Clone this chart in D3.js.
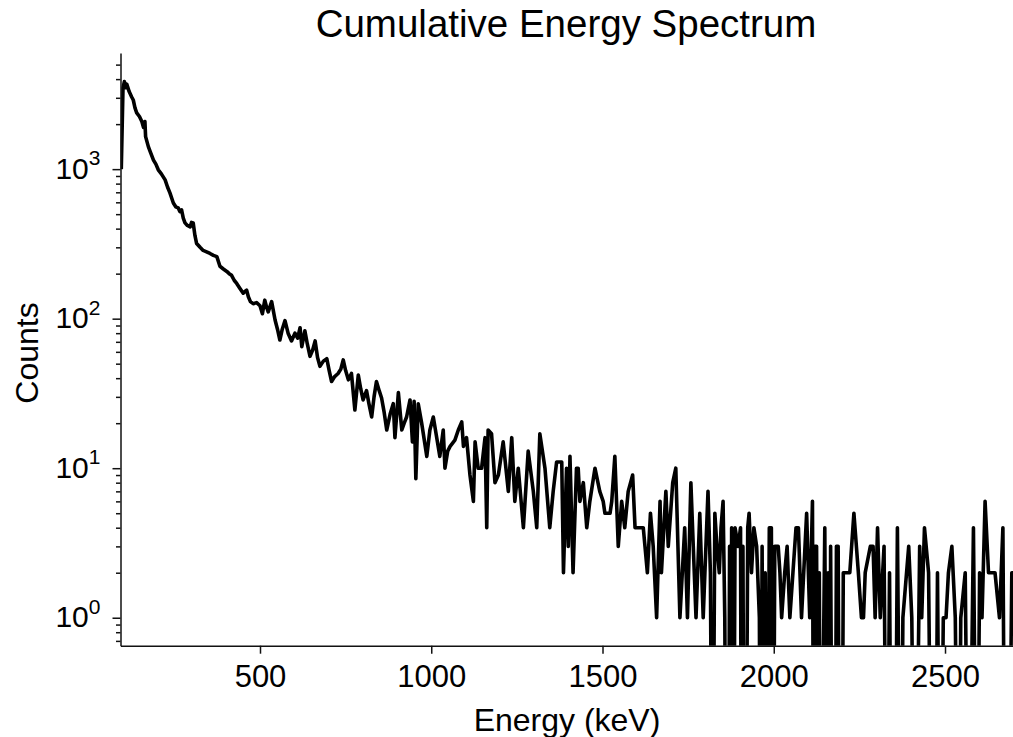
<!DOCTYPE html>
<html>
<head>
<meta charset="utf-8">
<script src="https://cdn.jsdelivr.net/npm/d3@7"></script>
<style>
  body { margin: 0; background: #fff; }
  svg { display: block; font-family: "Liberation Sans", Arial, sans-serif; }
  .axis path, .axis line { stroke: #111; stroke-width: 1.5; }
</style>
</head>
<body>
<div id="chart"></div>
<script>
// energies (keV) and counts, left to right (10 per row)
const energy = [
  95, 100, 104, 108, 111, 118, 125, 130, 135, 140,
  148, 155, 160, 164, 166, 174, 180, 189, 196, 203,
  212, 223, 230, 237, 247, 254, 261, 266, 271, 276,
  281, 288, 296, 300, 305, 310, 315, 325, 334, 344,
  354, 364, 374, 383, 393, 403, 410, 417, 425, 432,
  441, 451, 456, 461, 466, 472, 480, 490, 500, 507,
  514, 519, 524, 534, 544, 551, 558, 565, 573, 582,
  592, 602, 610, 617, 622, 631, 638, 646, 654, 661,
  668, 675, 685, 695, 702, 709, 718, 728, 736, 743,
  750, 758, 767, 777, 787, 794, 801, 811, 818, 826,
  833, 840, 848, 855, 862, 870, 880, 889, 894, 904,
  914, 921, 928, 938, 945, 950, 955, 962, 972, 987,
  996, 1006, 1016, 1025, 1035, 1040, 1048, 1055, 1069, 1079,
  1089, 1094, 1103, 1113, 1123, 1128, 1137, 1147, 1157, 1162,
  1166, 1176, 1186, 1196, 1210, 1225, 1235, 1244, 1254, 1269,
  1283, 1298, 1308, 1317, 1332, 1346, 1356, 1366, 1381, 1386,
  1395, 1400, 1405, 1414, 1424, 1429, 1434, 1444, 1454, 1463,
  1478, 1492, 1502, 1507, 1522, 1527, 1536, 1546, 1556, 1565,
  1575, 1588, 1595, 1604, 1619, 1624, 1631, 1640, 1648, 1658,
  1668, 1672, 1685, 1692, 1705, 1714, 1726, 1740, 1748, 1758,
  1765, 1773, 1784, 1794, 1808, 1815, 1821, 1828, 1834, 1841,
  1846, 1852, 1857, 1862, 1867, 1871, 1874, 1877, 1882, 1887,
  1896, 1903, 1906, 1910, 1914, 1918, 1924, 1928, 1935, 1942,
  1950, 1958, 1962, 1966, 1970, 1975, 1980, 1987, 1993, 1998,
  2003, 2013, 2018, 2023, 2032, 2039, 2047, 2056, 2065, 2072,
  2081, 2096, 2105, 2113, 2117, 2120, 2125, 2130, 2133, 2137,
  2149, 2155, 2159, 2163, 2166, 2172, 2178, 2183, 2188, 2193,
  2198, 2203, 2208, 2222, 2234, 2247, 2256, 2262, 2267, 2282,
  2290, 2296, 2303, 2311, 2322, 2330, 2338, 2345, 2353, 2361,
  2371, 2377, 2394, 2403, 2413, 2426, 2432, 2440, 2452, 2462,
  2471, 2478, 2486, 2495, 2503, 2510, 2520, 2530, 2540, 2546,
  2559, 2569, 2583, 2593, 2601, 2608, 2617, 2627, 2637, 2646,
  2659, 2669, 2676, 2685, 2695, 2702
];
const counts = [
  1000, 3500, 3850, 3500, 3700, 3300, 3050, 2900, 2570, 2380,
  2250, 2080, 1900, 2080, 1650, 1414, 1300, 1150, 1080, 990,
  930, 847, 760, 693, 594, 560, 551, 520, 534, 470,
  437, 420, 411, 440, 437, 360, 318, 300, 286, 280,
  273, 265, 260, 224, 215, 207, 200, 195, 180, 172,
  160, 148, 152, 155, 140, 130, 126, 128, 122, 108,
  133, 120, 111, 130, 98, 85, 72, 85, 97, 80,
  71, 80, 74, 87, 65, 83, 68, 56, 62, 71,
  55, 48, 52, 54, 45, 38, 41, 43, 46, 53,
  45, 39, 43, 24.5, 42, 34, 28.6, 33, 27, 22,
  30, 38, 33, 29.5, 24, 18, 23, 27, 16, 32,
  18, 20, 22, 28.6, 15, 28, 8.5, 27, 20, 12,
  18, 22, 16, 12, 18, 10, 13, 14, 15.4, 18,
  20.4, 14, 16, 9, 6, 15, 10, 10, 16, 4,
  18, 17, 8, 9, 15, 7, 16, 6, 10, 4,
  13, 7, 4, 17, 10, 4, 7, 11, 11, 2,
  10, 3, 12, 2, 10, 10, 6, 8, 4, 6,
  10, 7, 6, 5, 5, 6, 12, 3, 6, 4,
  7, 9, 4, 4, 4, 3, 2, 5, 3, 1,
  6, 2, 7, 3, 8, 10, 1, 4, 1, 8,
  3, 1, 5, 1, 7, 2, 0, 5, 3, 2,
  4, 6, 1, 0, 0, 3, 0, 4, 0, 4,
  3, 4, 0, 3, 0, 0, 4, 5, 2, 4,
  3, 1, 0, 3, 0, 2, 0, 4, 4, 0,
  3, 3, 2, 1, 2, 3, 1, 2, 4, 4,
  1, 5, 1, 6, 0, 3, 3, 0, 2, 0,
  4, 0, 2, 0, 3, 0, 0, 3, 3, 0,
  0, 2, 2, 2, 5, 2, 1, 1, 2, 3,
  3, 1, 4, 1, 3, 0, 2, 0, 0, 4,
  0, 1, 3, 1, 0, 3, 1, 4, 2, 0,
  0, 2, 0, 1, 1, 2, 3, 1, 0, 1,
  2, 0, 4, 0, 2, 1, 6, 2, 2, 2,
  1, 4, 0, 0, 2, 2
];
const xTicks = [500, 1000, 1500, 2000, 2500];
const yTicks = [1, 10, 100, 1000];
const xDomain = [92.7, 2698.5];
const yDomain = [0.65, 5980];

const data = energy.map((e, i) => ({ e: e, c: counts[i] }));

const W = 1013, H = 737;
const margin = { top: 53, right: 0, bottom: 91.3, left: 120.5 };
const width = W - margin.left - margin.right;
const height = H - margin.top - margin.bottom;

const svg = d3.select('#chart').append('svg')
  .attr('width', W)
  .attr('height', H);

const chart = svg.append('g')
  .attr('transform', `translate(${margin.left}, ${margin.top})`);

const x = d3.scaleLinear().domain(xDomain).range([0, width]);
const y = d3.scaleLog().domain(yDomain).range([height, 0]);

// clip so zero counts drop off the bottom like matplotlib does
chart.append('clipPath').attr('id', 'clip')
  .append('rect').attr('width', width).attr('height', height);

const line = d3.line()
  .x(d => x(d.e))
  .y(d => y(Math.max(d.c, 0.01)));

chart.append('path')
  .datum(data)
  .attr('clip-path', 'url(#clip)')
  .attr('fill', 'none')
  .attr('stroke', '#000')
  .attr('stroke-width', 3.6)
  .attr('stroke-linejoin', 'round')
  .attr('d', line);

// x axis
const xAxis = chart.append('g')
  .attr('class', 'axis x-axis')
  .attr('transform', `translate(0, ${height})`)
  .call(d3.axisBottom(x).tickValues(xTicks).tickFormat(d3.format('d'))
    .tickSize(8).tickPadding(11).tickSizeOuter(0));
xAxis.selectAll('text').attr('font-size', 31).attr('fill', '#000');

// y minor ticks
const minors = [];
[0.1, 1, 10, 100, 1000].forEach(p => {
  for (let k = 2; k <= 9; k++) {
    const v = p * k;
    if (v >= yDomain[0] && v <= yDomain[1]) minors.push(v);
  }
});
chart.append('g')
  .attr('class', 'axis y-minor')
  .call(d3.axisLeft(y).tickValues(minors).tickSize(4.5).tickFormat('').tickSizeOuter(0))
  .select('.domain').remove();

// y major ticks
const yAxis = chart.append('g')
  .attr('class', 'axis y-axis')
  .call(d3.axisLeft(y).tickValues(yTicks).tickSize(8).tickPadding(12).tickSizeOuter(0));
yAxis.selectAll('text')
  .attr('font-size', 30)
  .attr('fill', '#000')
  .attr('dy', '0.3em')
  .text(null)
  .each(function(d) {
    const t = d3.select(this);
    t.append('tspan').text('10');
    t.append('tspan')
      .attr('font-size', 21)
      .attr('dy', '-0.65em')
      .text(Math.round(Math.log10(d)));
  });

// title and labels
svg.append('text')
  .attr('x', 566)
  .attr('y', 37)
  .attr('text-anchor', 'middle')
  .attr('font-size', 38.5)
  .text('Cumulative Energy Spectrum');

svg.append('text')
  .attr('x', 567)
  .attr('y', 731)
  .attr('text-anchor', 'middle')
  .attr('font-size', 32)
  .text('Energy (keV)');

svg.append('text')
  .attr('transform', 'translate(38, 353) rotate(-90)')
  .attr('text-anchor', 'middle')
  .attr('font-size', 32)
  .text('Counts');
</script>
</body>
</html>
